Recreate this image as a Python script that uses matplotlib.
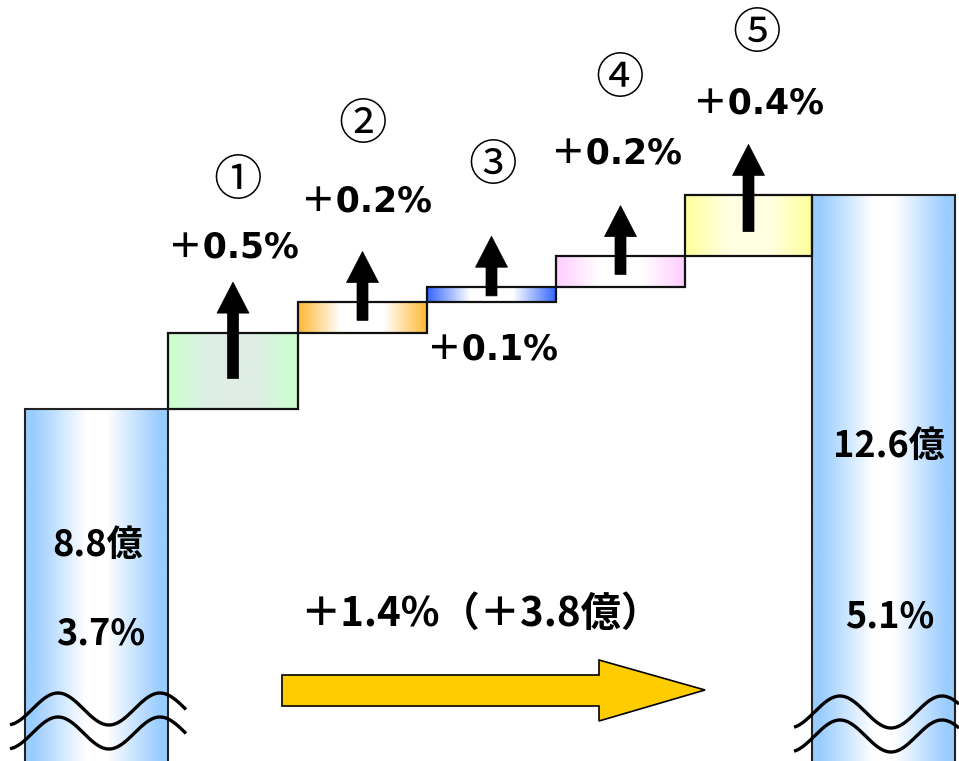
import numpy as np
import matplotlib
matplotlib.use("Agg")
from matplotlib import pyplot as plt
from matplotlib.colors import to_rgb
from matplotlib.patches import Rectangle, Polygon

# データ
start_val = 3.7
end_val = 5.1
step_vals = [0.5, 0.2, 0.1, 0.2, 0.4]
step_labels = ["＋0.5%", "＋0.2%", "＋0.1%", "＋0.2%", "＋0.4%"]
step_marks = ["①", "②", "③", "④", "⑤"]
start_amount = "8.8億"
end_amount = "12.6億"
start_label = "3.7%"
end_label = "5.1%"
total_label = "＋1.4%（＋3.8億）"

# 色（端 → 中央）
step_edge = ["#CCFFCC", "#FFB833", "#3366FF", "#FFCCFF", "#FFFF99"]
step_mid = ["#DEEEE6", "#FFFFFF", "#FFFFFF", "#FFFFFF", "#FFFFE2"]
total_edge = "#99CCFF"

JP = ["Noto Sans CJK JP", "DejaVu Sans"]
LAT = ["DejaVu Sans", "Noto Sans CJK JP"]

W, H = 959, 761
fig = plt.figure(figsize=(W / 100, H / 100), dpi=100)
ax = fig.add_axes([0, 0, 1, 1])
ax.set_xlim(0, W)
ax.set_ylim(1.40, 1.40 + H / 153)
ax.axis("off")

# 上に重ねる描画用（ピクセル座標）
ov = fig.add_axes([0, 0, 1, 1])
ov.set_xlim(0, W)
ov.set_ylim(H, 0)
ov.axis("off")
ov.patch.set_alpha(0)


def grad(edge, mid, k=1.5, c=0.0, n=256):
    t = np.linspace(0, 1, n)
    w = np.clip(k * (1 - np.abs(2 * t - 1)) - c, 0, 1)[:, None]
    e = np.array(to_rgb(edge))
    m = np.array(to_rgb(mid))
    return (e * (1 - w) + m * w)[None, :, :]


def gbar(x0, x1, y0, y1, edge, mid, ec="#222222", lw=1.5, k=1.5, c=0.0):
    ax.imshow(grad(edge, mid, k, c), extent=(x0, x1, y0, y1), aspect="auto",
              interpolation="bilinear", zorder=2)
    ax.add_patch(Rectangle((x0, y0), x1 - x0, y1 - y0, fill=False,
                           ec=ec, lw=lw, zorder=3))


# 両端のバー
bottom = 1.2
gbar(25, 168, bottom, start_val, total_edge, "#FFFFFF", k=1.35, c=0.15)
gbar(812, 955, bottom, end_val, total_edge, "#FFFFFF", k=1.35, c=0.15)

# ステップ
xs = [168, 298, 427, 556, 685, 812]
level = start_val
for i, v in enumerate(step_vals):
    x0, x1 = xs[i], xs[i + 1]
    gbar(x0, x1, level, level + v, step_edge[i], step_mid[i], ec="#111111", lw=1.6)
    cx = (x0 + x1) / 2
    y_bot = level + v * 0.4
    tip = level + v + 0.33
    hl = 31 / 153
    sw, hw = 5.5, 16
    pts = [(cx - sw, y_bot), (cx - sw, tip - hl), (cx - hw, tip - hl), (cx, tip),
           (cx + hw, tip - hl), (cx + sw, tip - hl), (cx + sw, y_bot)]
    ax.add_patch(Polygon(pts, closed=True, fc="black", ec="black", lw=0.5, zorder=4))
    level += v

# ラベル位置
mark_pos = [(238, 181), (363, 125), (493, 166), (620, 79), (757, 34)]
lab_pos = [(233, 248), (366, 202), (492, 350), (617, 154), (758, 104)]
for (mx, my), m in zip(mark_pos, step_marks):
    ov.text(mx, my, m, ha="center", va="center", fontsize=35, family=JP)
for (lx, ly), s in zip(lab_pos, step_labels):
    ov.text(lx, ly, s, ha="center", va="center", fontsize=25,
            fontweight="bold", family=LAT)

ov.text(98, 545, start_amount, ha="center", va="center", fontsize=26,
        fontweight="bold", family=JP)
ov.text(101, 634, start_label, ha="center", va="center", fontsize=26,
        fontweight="bold", family=JP)
ov.text(889, 446, end_amount, ha="center", va="center", fontsize=26,
        fontweight="bold", family=JP)
ov.text(890, 617, end_label, ha="center", va="center", fontsize=26,
        fontweight="bold", family=JP)
ov.text(300, 614, total_label, ha="left", va="center", fontsize=29,
        fontweight="bold", family=JP)

# 大きい矢印
big = [(282, 675), (599, 675), (599, 660), (705, 690), (599, 721),
       (599, 706), (282, 706)]
ov.add_patch(Polygon(big, closed=True, fc="#FFCC00", ec="black", lw=1.2, zorder=5))

# 波線（省略記号）
for x_a, x_b, xp, yc in [(10, 186, 58, 709), (794, 959, 840, 712)]:
    xx = np.linspace(x_a, x_b, 200)
    for off in (0, 24):
        yy = yc + off - 16 * np.cos(2 * np.pi * (xx - xp) / 102)
        ov.plot(xx, yy, color="black", lw=2.4, solid_capstyle="butt", zorder=6)

fig.savefig("out.png", dpi=100)
